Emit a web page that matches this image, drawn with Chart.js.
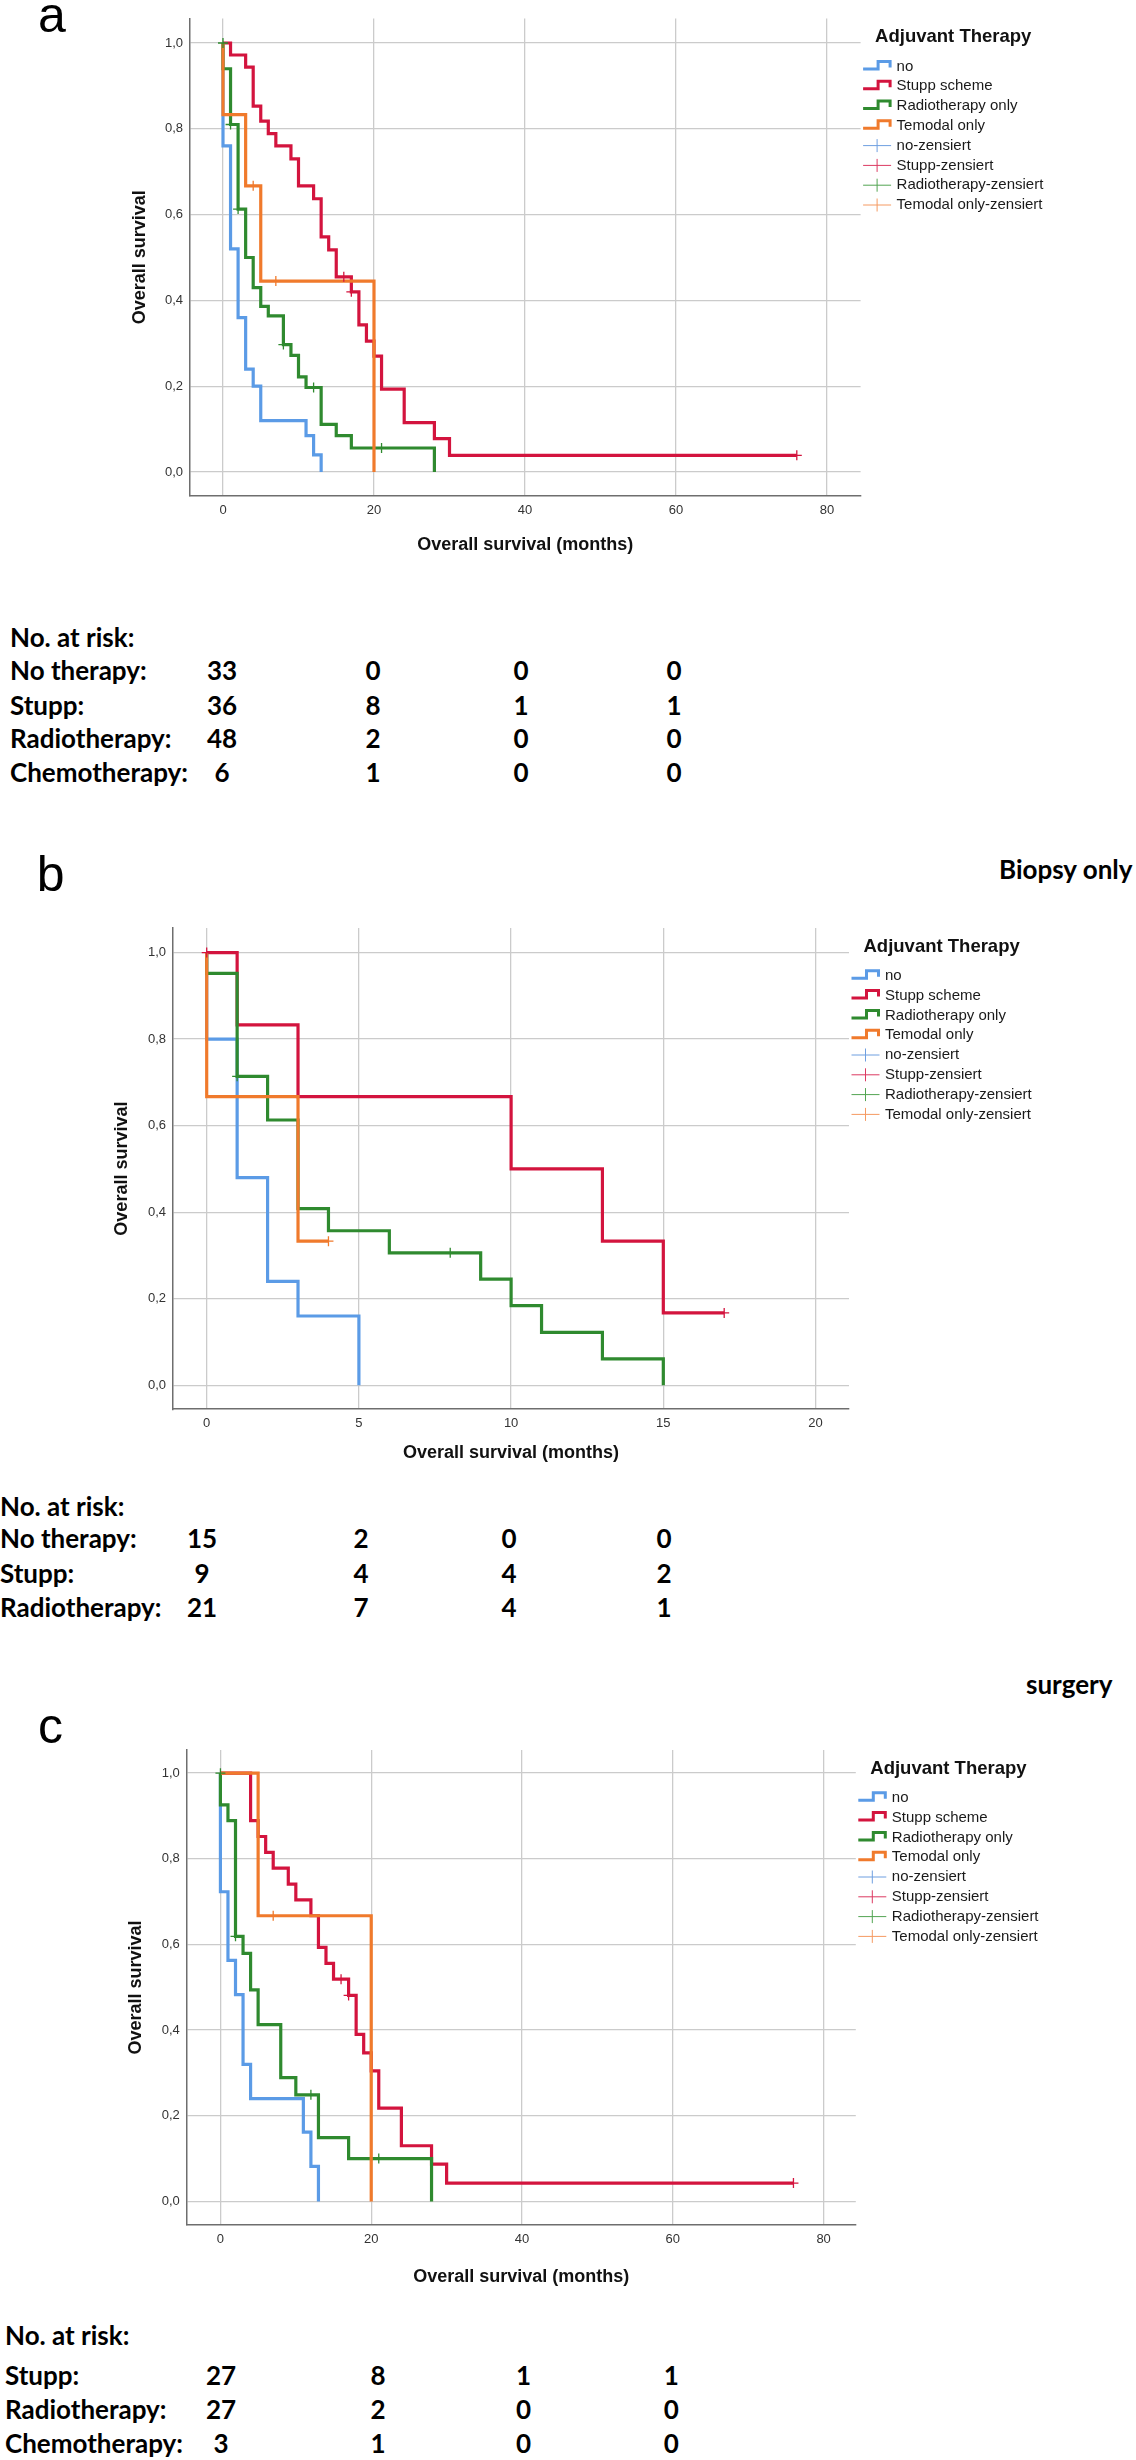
<!DOCTYPE html>
<html>
<head>
<meta charset="utf-8">
<script src="https://cdn.jsdelivr.net/npm/chart.js@4.4.0/dist/chart.umd.min.js"></script>
<style>
  body { margin: 0; background: #fff; width: 1136px; height: 2460px; position: relative; overflow: hidden; }
  canvas { position: absolute; left: 0; }
  .letter { position: absolute; font-family: "Liberation Sans", Arial, sans-serif; font-size: 50px; line-height: 50px; color: #000; }
  .cal { position: absolute; font-family: Lato, "Open Sans", sans-serif; font-weight: 700; font-size: 26px; line-height: 26px; white-space: nowrap; color: #000; }
  .num { width: 80px; text-align: center; }
</style>
</head>
<body>
<canvas id="chartA" width="1136" height="565" style="top:0px"></canvas>
<canvas id="chartB" width="1136" height="570" style="top:900px"></canvas>
<canvas id="chartC" width="1136" height="570" style="top:1728px"></canvas>

<div class="letter" style="left:38px; top:-9.6px">a</div>
<div class="letter" style="left:36.7px; top:849.2px">b</div>
<div class="letter" style="left:38px; top:1701.3px">c</div>
<div class="cal" style="left:999px; top:856px">Biopsy only</div>
<div class="cal" style="left:1026px; top:1670.5px">surgery</div>

<script>
// axis ticks
const xTicksLong = [0, 20, 40, 60, 80];
const xTicksShort = [0, 5, 10, 15, 20];
const yTicks = [0, 0.2, 0.4, 0.6, 0.8, 1.0];
const yTickLabels = ['0,0', '0,2', '0,4', '0,6', '0,8', '1,0'];

const groupLabels = ['no', 'Stupp scheme', 'Radiotherapy only', 'Temodal only'];
const censorLabels = ['no-zensiert', 'Stupp-zensiert', 'Radiotherapy-zensiert', 'Temodal only-zensiert'];
const groupColors = ['#5b9be6', '#d3143e', '#2f8a2f', '#f07a2c'];
const censorColors = ['#6f9fe0', '#dc3a62', '#52a452', '#f59a62'];

// panel a - all patients (time in months, survival)
const aNoTime = [0, 0, 1, 2, 3, 4, 5, 11, 12, 13];
const aNoSurv = [1, 0.76, 0.52, 0.36, 0.24, 0.2, 0.12, 0.085, 0.04, 0];
const aStuppTime = [0, 1, 3, 4, 5, 6, 7, 9, 10, 12, 13, 14, 15, 17, 18, 19, 20, 21, 24, 28, 30, 76];
const aStuppSurv = [1, 0.972, 0.944, 0.853, 0.818, 0.789, 0.76, 0.73, 0.667, 0.637, 0.548, 0.518, 0.455, 0.42, 0.343, 0.305, 0.27, 0.193, 0.115, 0.078, 0.039, 0.039];
const aRadioTime = [0, 0, 1, 2, 3, 4, 5, 6, 8, 9, 10, 11, 13, 15, 17, 28];
const aRadioSurv = [1, 0.94, 0.81, 0.613, 0.5, 0.43, 0.386, 0.364, 0.297, 0.272, 0.222, 0.197, 0.111, 0.085, 0.056, 0];
const aTemoTime = [0, 0, 3, 5, 20];
const aTemoSurv = [1, 0.833, 0.667, 0.445, 0];
const aStuppCensTime = [16, 17, 76];
const aStuppCensSurv = [0.455, 0.42, 0.039];
const aRadioCensTime = [0, 1, 2, 8, 12, 21];
const aRadioCensSurv = [1, 0.81, 0.613, 0.297, 0.197, 0.056];
const aTemoCensTime = [4, 7];
const aTemoCensSurv = [0.667, 0.445];

// panel b - biopsy only
const bNoTime = [0, 0, 1, 2, 3, 5];
const bNoSurv = [1, 0.8, 0.48, 0.24, 0.16, 0];
const bStuppTime = [0, 1, 3, 10, 13, 15, 17];
const bStuppSurv = [1, 0.833, 0.667, 0.5, 0.333, 0.167, 0.167];
const bRadioTime = [0, 0, 1, 2, 3, 4, 6, 9, 10, 11, 13, 15];
const bRadioSurv = [1, 0.952, 0.714, 0.613, 0.408, 0.357, 0.306, 0.245, 0.184, 0.122, 0.061, 0];
const bTemoTime = [0, 0, 3, 4];
const bTemoSurv = [1, 0.667, 0.333, 0.333];
const bStuppCensTime = [0, 17];
const bStuppCensSurv = [1, 0.167];
const bRadioCensTime = [1, 8];
const bRadioCensSurv = [0.714, 0.306];
const bTemoCensTime = [4];
const bTemoCensSurv = [0.333];

// panel c - surgery
const cNoTime = [0, 0, 1, 2, 3, 4, 11, 12, 13];
const cNoSurv = [1, 0.723, 0.563, 0.483, 0.32, 0.24, 0.162, 0.082, 0];
const cStuppTime = [0, 4, 5, 6, 7, 9, 10, 12, 13, 14, 15, 17, 18, 19, 20, 21, 24, 28, 30, 76];
const cStuppSurv = [1, 0.889, 0.852, 0.815, 0.778, 0.741, 0.704, 0.667, 0.593, 0.556, 0.519, 0.481, 0.39, 0.347, 0.305, 0.218, 0.13, 0.087, 0.043, 0.043];
const cRadioTime = [0, 0, 1, 2, 3, 4, 5, 8, 10, 13, 17, 28];
const cRadioSurv = [1, 0.926, 0.889, 0.619, 0.579, 0.494, 0.413, 0.289, 0.249, 0.149, 0.1, 0];
const cTemoTime = [0, 5, 20];
const cTemoSurv = [1, 0.667, 0];
const cStuppCensTime = [16, 17, 76];
const cStuppCensSurv = [0.519, 0.481, 0.043];
const cRadioCensTime = [0, 2, 12, 21];
const cRadioCensSurv = [1, 0.619, 0.249, 0.1];
const cTemoCensTime = [7];
const cTemoCensSurv = [0.667];

// numbers at risk
const riskRowsA = ['No therapy:', 'Stupp:', 'Radiotherapy:', 'Chemotherapy:'];
const riskA = [[33, 0, 0, 0], [36, 8, 1, 1], [48, 2, 0, 0], [6, 1, 0, 0]];
const riskRowsB = ['No therapy:', 'Stupp:', 'Radiotherapy:'];
const riskB = [[15, 2, 0, 0], [9, 4, 4, 2], [21, 7, 4, 1]];
const riskRowsC = ['Stupp:', 'Radiotherapy:', 'Chemotherapy:'];
const riskC = [[27, 8, 1, 1], [27, 2, 0, 0], [3, 1, 0, 0]];

const FONT = "'Liberation Sans', Arial, sans-serif";

const pts = (t, s) => t.map((x, i) => ({ x: x, y: s[i] }));

// legend drawn to the right of the plot, SPSS style
const kmLegend = {
    id: 'kmLegend',
    afterDraw(chart) {
        const ctx = chart.ctx;
        const right = chart.chartArea.right;
        const top = chart.chartArea.top;
        ctx.save();
        ctx.textBaseline = 'middle';
        ctx.fillStyle = '#111';
        ctx.font = 'bold 18.5px ' + FONT;
        ctx.fillText('Adjuvant Therapy', right + 14.5, top + 18.5);
        ctx.font = '15px ' + FONT;
        const x0 = right + 2.5;
        for (let i = 0; i < 8; i++) {
            const yc = top + 47.8 + i * 19.8;
            if (i < 4) {
                ctx.strokeStyle = groupColors[i];
                ctx.lineWidth = 3;
                ctx.lineJoin = 'miter';
                ctx.beginPath();
                ctx.moveTo(x0, yc + 2.5);
                ctx.lineTo(x0 + 15, yc + 2.5);
                ctx.lineTo(x0 + 15, yc - 5);
                ctx.lineTo(x0 + 27, yc - 5);
                ctx.lineTo(x0 + 27, yc + 1);
                ctx.stroke();
            } else {
                ctx.strokeStyle = censorColors[i - 4];
                ctx.lineWidth = 1;
                ctx.beginPath();
                ctx.moveTo(x0, yc);
                ctx.lineTo(x0 + 28, yc);
                ctx.moveTo(x0 + 14, yc - 6.5);
                ctx.lineTo(x0 + 14, yc + 6.5);
                ctx.stroke();
            }
            ctx.fillStyle = '#1a1a1a';
            ctx.fillText(i < 4 ? groupLabels[i] : censorLabels[i - 4], right + 36, yc);
        }
        ctx.restore();
    }
};

function kmChart(id, geo, groups, censors, xTicks) {
    const datasets = [];
    groups.forEach((g, i) => {
        datasets.push({
            type: 'line',
            label: groupLabels[i],
            data: pts(g[0], g[1]),
            borderColor: groupColors[i],
            borderWidth: 3.2,
            stepped: 'before',
            pointRadius: 0,
            fill: false,
            order: 10 - i
        });
    });
    censors.forEach((c, i) => {
        if (!c) return;
        datasets.push({
            type: 'scatter',
            label: censorLabels[i],
            data: pts(c[0], c[1]),
            borderColor: groupColors[i],
            backgroundColor: groupColors[i],
            pointStyle: 'cross',
            pointRadius: 5,
            borderWidth: 1.3,
            order: 0
        });
    });

    const padLeft = geo.yTitleX - 10.8;
    const canvasH = geo.h;

    new Chart(document.getElementById(id), {
        data: { datasets: datasets },
        plugins: [kmLegend],
        options: {
            responsive: false,
            animation: false,
            devicePixelRatio: 1,
            layout: {
                padding: { left: padLeft, top: geo.T - geo.top, right: 1136 - geo.R, bottom: 0 }
            },
            plugins: {
                legend: { display: false },
                tooltip: { enabled: false }
            },
            scales: {
                x: {
                    type: 'linear',
                    bounds: 'data',
                    min: geo.xMin,
                    max: geo.xMax,
                    afterBuildTicks: s => { s.ticks = xTicks.map(v => ({ value: v })); },
                    afterFit: s => { s.height = geo.top + canvasH - geo.B; },
                    ticks: {
                        padding: geo.xPad,
                        color: '#333',
                        font: { family: FONT, size: 13 },
                        callback: v => String(v)
                    },
                    grid: { color: '#cbcbcb', lineWidth: 1.3, drawTicks: false },
                    border: { color: '#6e6e6e', width: 1.5 },
                    title: {
                        display: true,
                        text: 'Overall survival (months)',
                        color: '#111',
                        font: { family: FONT, size: 18, weight: 'bold' },
                        padding: { top: 0, bottom: geo.top + canvasH - geo.xTitleY - 10.8 }
                    }
                },
                y: {
                    type: 'linear',
                    bounds: 'data',
                    min: geo.yMin,
                    max: geo.yMax,
                    afterBuildTicks: s => { s.ticks = yTicks.map(v => ({ value: v })); },
                    afterFit: s => { s.width = geo.L - padLeft; },
                    ticks: {
                        padding: 7,
                        color: '#333',
                        font: { family: FONT, size: 13 },
                        callback: (v, i) => yTickLabels[i]
                    },
                    grid: { color: '#cbcbcb', lineWidth: 1.3, drawTicks: false },
                    border: { color: '#6e6e6e', width: 1.5 },
                    title: {
                        display: true,
                        text: 'Overall survival',
                        color: '#111',
                        font: { family: FONT, size: 18, weight: 'bold' },
                        padding: { top: 0, bottom: 0 }
                    }
                }
            }
        }
    });
}

// page geometry of each panel (pixels)
const geoA = { top: 0, h: 565, L: 190, R: 860.6, T: 18.6, B: 496, xMin: -4.37, xMax: 84.45, yMin: -0.0559, yMax: 1.0569, yTitleX: 139.7, xTitleY: 545, xPad: 7 };
const geoB = { top: 900, h: 570, L: 173, R: 849, T: 928, B: 1409.2, xMin: -1.107, xMax: 21.1, yMin: -0.0555, yMax: 1.0569, yTitleX: 121.7, xTitleY: 1453, xPad: 6 };
const geoC = { top: 1728, h: 570, L: 186.8, R: 855.8, T: 1750, B: 2225, xMin: -4.46, xMax: 84.27, yMin: -0.055, yMax: 1.054, yTitleX: 135.9, xTitleY: 2276.7, xPad: 7 };

kmChart('chartA', geoA,
    [[aNoTime, aNoSurv], [aStuppTime, aStuppSurv], [aRadioTime, aRadioSurv], [aTemoTime, aTemoSurv]],
    [null, [aStuppCensTime, aStuppCensSurv], [aRadioCensTime, aRadioCensSurv], [aTemoCensTime, aTemoCensSurv]],
    xTicksLong);
kmChart('chartB', geoB,
    [[bNoTime, bNoSurv], [bStuppTime, bStuppSurv], [bRadioTime, bRadioSurv], [bTemoTime, bTemoSurv]],
    [null, [bStuppCensTime, bStuppCensSurv], [bRadioCensTime, bRadioCensSurv], [bTemoCensTime, bTemoCensSurv]],
    xTicksShort);
kmChart('chartC', geoC,
    [[cNoTime, cNoSurv], [cStuppTime, cStuppSurv], [cRadioTime, cRadioSurv], [cTemoTime, cTemoSurv]],
    [null, [cStuppCensTime, cStuppCensSurv], [cRadioCensTime, cRadioCensSurv], [cTemoCensTime, cTemoCensSurv]],
    xTicksLong);

// "No. at risk" tables as page text; y values are cap-height centres
function riskTable(rows, values, labelLeft, rowY, colX) {
    const add = (text, left, capY, cls) => {
        const d = document.createElement('div');
        d.className = 'cal' + (cls ? ' ' + cls : '');
        d.textContent = text;
        d.style.left = left + 'px';
        d.style.top = (capY - 13.75) + 'px';
        document.body.appendChild(d);
    };
    add('No. at risk:', labelLeft, rowY[0]);
    rows.forEach((r, i) => {
        add(r, labelLeft, rowY[i + 1]);
        values[i].forEach((v, j) => add(String(v), colX[j] - 40, rowY[i + 1], 'num'));
    });
}
riskTable(riskRowsA, riskA, 10, [638, 671, 705.7, 739, 772.3], [222, 373, 521, 674]);
riskTable(riskRowsB, riskB, 0, [1506.7, 1539, 1574, 1607.3], [202, 361, 509, 664]);
riskTable(riskRowsC, riskC, 5, [2335.7, 2375.7, 2410, 2443.3], [221, 378, 523.5, 671.4]);
</script>
</body>
</html>
